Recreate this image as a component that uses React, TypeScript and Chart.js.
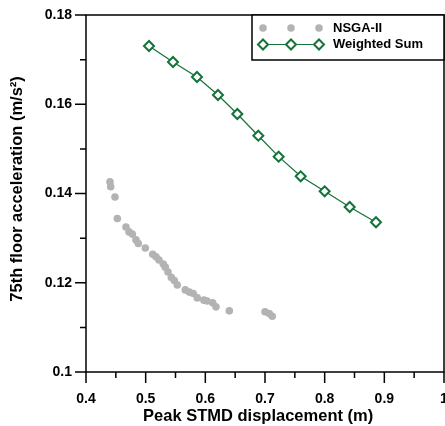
import React, { useEffect, useRef } from "react";
import { Chart, registerables } from "chart.js";

Chart.register(...registerables);

const nsgaX = [0.4402, 0.4414, 0.4486, 0.4525, 0.467, 0.4721, 0.4776, 0.4838, 0.4877, 0.4994, 0.5118, 0.5173, 0.5223, 0.5295, 0.5329, 0.5374, 0.543, 0.548, 0.553, 0.5664, 0.5731, 0.5798, 0.5865, 0.5977, 0.6028, 0.6123, 0.6178, 0.6402, 0.7, 0.7071, 0.7122];
const nsgaY = [0.1426, 0.1415, 0.1392, 0.1344, 0.1325, 0.1314, 0.1309, 0.1296, 0.1288, 0.1278, 0.1264, 0.1258, 0.1251, 0.1242, 0.1235, 0.1224, 0.1212, 0.1205, 0.1195, 0.1184, 0.1179, 0.1176, 0.1166, 0.1161, 0.1159, 0.1155, 0.1146, 0.1137, 0.1135, 0.1131, 0.1125];

const wsX = [0.5056, 0.5458, 0.586, 0.6212, 0.6536, 0.6888, 0.7229, 0.7598, 0.8, 0.8419, 0.886];
const wsY = [0.17305, 0.16947, 0.16611, 0.16207, 0.15782, 0.15295, 0.14825, 0.14385, 0.14049, 0.13697, 0.13355];

const seriesNames = ["NSGA-II", "Weighted Sum"];
const xTitle = "Peak STMD displacement (m)   ";
const yTitle = "  75th floor acceleration (m/s²)";

const GRAY = "#b3b3b3";
const GREEN = "#137339";
const FONT = "'Liberation Sans', Arial, sans-serif";

const framePlugin = {
  id: "frameAndTicks",
  afterDraw(chart: any) {
    const { ctx, chartArea } = chart;
    const xs = chart.scales.x;
    const ys = chart.scales.y;
    ctx.save();
    ctx.strokeStyle = "#000";
    ctx.lineWidth = 1.5;
    ctx.strokeRect(chartArea.left, chartArea.top, chartArea.right - chartArea.left, chartArea.bottom - chartArea.top);
    ctx.beginPath();
    for (let v = 0.4; v <= 1.0001; v += 0.05) {
      const major = Math.round(v * 100) % 10 === 0;
      const px = xs.getPixelForValue(v);
      ctx.moveTo(px, chartArea.bottom);
      ctx.lineTo(px, chartArea.bottom + (major ? 11 : 6));
    }
    for (let v = 0.1; v <= 0.1801; v += 0.01) {
      const major = Math.round(v * 100) % 2 === 0;
      const py = ys.getPixelForValue(v);
      ctx.moveTo(chartArea.left, py);
      ctx.lineTo(chartArea.left - (major ? 11 : 6), py);
    }
    ctx.stroke();

    // legend
    const bw = 192, bh = 45;
    const bx = chartArea.right - bw, by = chartArea.top;
    ctx.fillStyle = "#fff";
    ctx.fillRect(bx, by, bw, bh);
    ctx.lineWidth = 1.5;
    ctx.strokeStyle = "#000";
    ctx.strokeRect(bx, by, bw, bh);
    const mx = [bx + 11, bx + 39, bx + 67];
    const r1 = by + 13, r2 = by + 29.5;
    ctx.fillStyle = GRAY;
    for (const m of mx) {
      ctx.beginPath();
      ctx.arc(m, r1, 3.8, 0, Math.PI * 2);
      ctx.fill();
    }
    ctx.strokeStyle = GREEN;
    ctx.lineWidth = 1.2;
    ctx.beginPath();
    ctx.moveTo(mx[0], r2);
    ctx.lineTo(mx[2], r2);
    ctx.stroke();
    ctx.lineWidth = 2;
    for (const m of mx) {
      const rr = 5;
      ctx.beginPath();
      ctx.moveTo(m - rr, r2);
      ctx.lineTo(m, r2 - rr);
      ctx.lineTo(m + rr, r2);
      ctx.lineTo(m, r2 + rr);
      ctx.closePath();
      ctx.fillStyle = "#fff";
      ctx.fill();
      ctx.stroke();
    }
    ctx.fillStyle = "#000";
    ctx.font = `bold 13px ${FONT}`;
    ctx.textBaseline = "middle";
    ctx.textAlign = "left";
    ctx.fillText(seriesNames[0], bx + 81, r1);
    ctx.fillText(seriesNames[1], bx + 81, r2);
    ctx.restore();
  },
};

export default function App() {
  const ref = useRef<HTMLCanvasElement>(null);
  useEffect(() => {
    if (!ref.current) return;
    const chart = new Chart(ref.current, {
      type: "scatter",
      data: {
        datasets: [
          {
            label: seriesNames[0],
            data: nsgaX.map((x, i) => ({ x, y: nsgaY[i] })),
            pointStyle: "circle",
            pointRadius: 3.8,
            pointBackgroundColor: GRAY,
            pointBorderWidth: 0,
            showLine: false,
          },
          {
            label: seriesNames[1],
            data: wsX.map((x, i) => ({ x, y: wsY[i] })),
            showLine: true,
            borderColor: GREEN,
            borderWidth: 1.2,
            pointStyle: "rectRot",
            pointRadius: 5,
            pointBackgroundColor: "#fff",
            pointBorderColor: GREEN,
            pointBorderWidth: 2,
          },
        ],
      },
      options: {
        animation: false,
        responsive: false,
        devicePixelRatio: 1,
        layout: { padding: { top: 15, right: 0, left: 0, bottom: 0 } },
        plugins: { legend: { display: false }, tooltip: { enabled: false } },
        scales: {
          x: {
            type: "linear",
            min: 0.4,
            max: 1.0,
            grid: { display: true, drawOnChartArea: false, drawTicks: false },
            border: { display: false },
            afterFit: (s: any) => {
              s.height = 54;
              s.paddingLeft = 0;
              s.paddingRight = 0;
            },
            ticks: {
              stepSize: 0.05,
              padding: 19,
              maxRotation: 0,
              autoSkip: false,
              color: "#000",
              font: { family: FONT, size: 14, weight: "bold" },
              callback: (v: any) => {
                const n = Number(v);
                return Math.round(n * 100) % 10 === 0 ? String(parseFloat(n.toFixed(1))) : "";
              },
            },
            title: {
              display: true,
              text: xTitle,
              color: "#000",
              font: { family: FONT, size: 16.5, weight: "bold" },
              padding: { top: 0, bottom: 0 },
            },
          },
          y: {
            type: "linear",
            min: 0.1,
            max: 0.18,
            grid: { display: true, drawOnChartArea: false, drawTicks: false },
            border: { display: false },
            afterFit: (s: any) => {
              s.width = 86;
              s.paddingTop = 0;
              s.paddingBottom = 0;
            },
            ticks: {
              stepSize: 0.01,
              padding: 14,
              autoSkip: false,
              color: "#000",
              font: { family: FONT, size: 14, weight: "bold" },
              callback: (v: any) => {
                const n = Number(v);
                return Math.round(n * 100) % 2 === 0 ? String(parseFloat(n.toFixed(2))) : "";
              },
            },
            title: {
              display: true,
              text: yTitle,
              color: "#000",
              font: { family: FONT, size: 16.5, weight: "bold" },
              padding: { top: 8, bottom: 0 },
            },
          },
        },
      },
      plugins: [framePlugin],
    });
    return () => chart.destroy();
  }, []);
  return (
    <div style={{ position: "fixed", left: 0, top: 0, width: 445, height: 426, overflow: "hidden", background: "#fff" }}>
      <canvas ref={ref} width={451} height={426} style={{ width: 451, height: 426, display: "block" }} />
    </div>
  );
}
